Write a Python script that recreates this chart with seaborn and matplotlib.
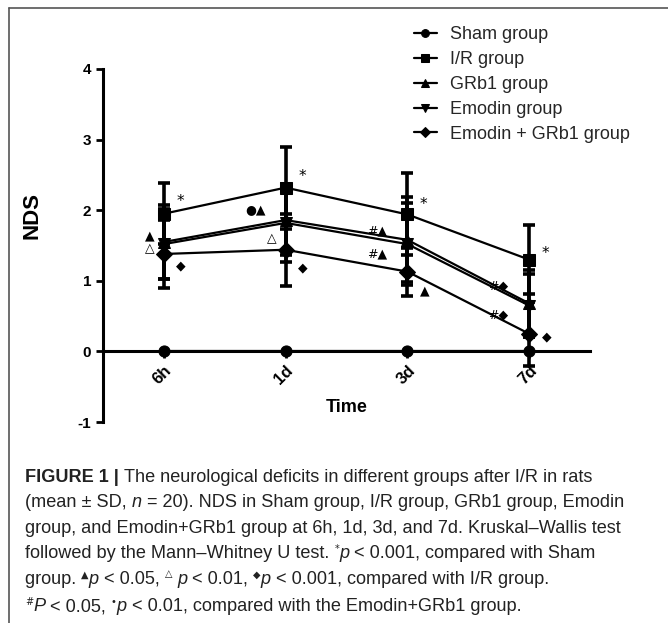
import numpy as np
import pandas as pd
import matplotlib
matplotlib.use('Agg')
import matplotlib.pyplot as plt
import seaborn as sns
from matplotlib.lines import Line2D

sns.set_theme(style='white')
plt.rcParams['font.family'] = ['Liberation Sans', 'DejaVu Sans']

# values (mean and SD of NDS)
times = ['6h', '1d', '3d', '7d']
groups = ['Sham group', 'I/R group', 'GRb1 group', 'Emodin group', 'Emodin + GRb1 group']
sham_mean = [0.0, 0.0, 0.0, 0.0]
sham_sd = [0.0, 0.0, 0.0, 0.0]
ir_mean = [1.95, 2.32, 1.94, 1.30]
ir_sd = [0.43, 0.58, 0.58, 0.49]
grb1_mean = [1.55, 1.86, 1.58, 0.68]
grb1_sd = [0.52, 0.50, 0.60, 0.47]
emodin_mean = [1.52, 1.82, 1.52, 0.65]
emodin_sd = [0.50, 0.55, 0.58, 0.45]
combo_mean = [1.38, 1.44, 1.13, 0.25]
combo_sd = [0.48, 0.51, 0.34, 0.45]

# significance marks: (time index, y, text, side)
marks = [
    (0, 2.12, '*', 'r'), (0, 1.63, '▲', 'l'), (0, 1.45, '△', 'l'), (0, 1.21, '◆', 'r'),
    (1, 2.48, '*', 'r'), (1, 1.99, '●▲', 'l'), (1, 1.59, '△', 'l'), (1, 1.18, '◆', 'r'),
    (2, 2.08, '*', 'r'), (2, 1.70, '#▲', 'l'), (2, 1.38, '#▲', 'l'), (2, 0.85, '▲', 'r'),
    (3, 1.38, '*', 'r'), (3, 0.93, '#◆', 'l'), (3, 0.52, '#◆', 'l'), (3, 0.20, '◆', 'r'),
]

means = [sham_mean, ir_mean, grb1_mean, emodin_mean, combo_mean]
sds = [sham_sd, ir_sd, grb1_sd, emodin_sd, combo_sd]
df = pd.DataFrame({
    'Time': np.tile(np.arange(len(times)), len(groups)),
    'NDS': np.concatenate(means),
    'group': np.repeat(groups, len(times)),
})

fig = plt.figure(figsize=(6.68, 6.23), dpi=100)
ax = fig.add_axes([103 / 668, 1 - 422 / 623, 487 / 668, 353 / 623])

for m, s in zip(means[1:], sds[1:]):
    ax.errorbar(np.arange(len(times)), m, yerr=s, fmt='none', ecolor='black',
                elinewidth=2.6, capsize=4.5, capthick=2.6, zorder=2)

sns.lineplot(data=df, x='Time', y='NDS', hue='group', style='group',
             palette=['black'] * 5, dashes=False,
             markers={'Sham group': 'o', 'I/R group': 's', 'GRb1 group': '^',
                      'Emodin group': 'v', 'Emodin + GRb1 group': 'D'},
             markersize=8, markeredgecolor='black', linewidth=1.6, ax=ax, zorder=3)

# spine position first: moving a spine resets the ticks
ax.spines['top'].set_visible(False)
ax.spines['right'].set_visible(False)
ax.spines['bottom'].set_position(('data', 0))
for sp in ['left', 'bottom']:
    ax.spines[sp].set_linewidth(2.2)
    ax.spines[sp].set_color('black')

ax.set_xlim(-0.5, 3.5)
ax.set_ylim(-1, 4)
ax.tick_params(axis='both', bottom=True, left=True, direction='out', length=5,
               width=2, color='black', labelcolor='black')
ax.tick_params(axis='x', pad=3)
ax.set_xticks(range(len(times)))
ax.set_xticklabels(times, fontsize=12, fontweight='bold', rotation=45, ha='right',
                   rotation_mode='anchor')
ax.set_yticks(range(-1, 5))
ax.set_yticklabels([str(v) for v in range(-1, 5)], fontsize=11, fontweight='bold')
ax.set_xlabel('Time', fontsize=13, fontweight='bold', color='black')
ax.set_ylabel('NDS', fontsize=16, fontweight='bold', color='black')
ax.xaxis.set_label_coords(0.5, 0.065)
ax.yaxis.set_label_coords(-0.125, 0.585)

handles, labels = ax.get_legend_handles_labels()
ax.legend(handles, labels, loc='upper left', bbox_to_anchor=(405 / 668, 1 - 17 / 623),
          bbox_transform=fig.transFigure, frameon=False, fontsize=13, markerscale=0.7,
          handlelength=1.25, handletextpad=0.75, labelspacing=0.44, borderpad=0)

for i, y, txt, side in marks:
    dx = 9 if side == 'r' else -12 * len(txt) + 2
    ax.annotate(txt, xy=(i, y), xytext=(dx, 0), textcoords='offset points',
                ha='left' if side == 'r' else 'center', va='center',
                fontsize=11 if txt == '*' else 9, family='DejaVu Sans', color='black')

# frame around the figure panel
fig.add_artist(Line2D([9 / 668, 1], [1 - 8 / 623, 1 - 8 / 623], transform=fig.transFigure,
                      color='#555555', lw=1.2))
fig.add_artist(Line2D([9 / 668, 9 / 668], [0, 1 - 8 / 623], transform=fig.transFigure,
                      color='#555555', lw=1.2))

# caption
cap = 'Liberation Sans'
fs = 13.1
n = dict(family=cap, fontsize=fs, color='#222222')
b = dict(family=cap, fontsize=fs, color='#222222', fontweight='bold')
it = dict(family=cap, fontsize=fs, color='#222222', style='italic')
sup = dict(family=['DejaVu Sans'], fontsize=7, color='#222222', offset=6)

caption = [
    [('FIGURE 1 | ', b), ('The neurological deficits in different groups after I/R in rats', n)],
    [('(mean ± SD, ', n), ('n', it), (' = 20). NDS in Sham group, I/R group, GRb1 group, Emodin', n)],
    [('group, and Emodin+GRb1 group at 6h, 1d, 3d, and 7d. Kruskal–Wallis test', n)],
    [('followed by the Mann–Whitney U test. ', n), ('*', sup), ('p', it),
     (' < 0.001, compared with Sham', n)],
    [('group. ', n), ('▲', sup), ('p', it), (' < 0.05, ', n), ('△', sup), (' ', n), ('p', it),
     (' < 0.01, ', n), ('◆', sup), ('p', it), (' < 0.001, compared with I/R group.', n)],
    [('#', sup), ('P', it), (' < 0.05, ', n), ('•', sup), ('p', it),
     (' < 0.01, compared with the Emodin+GRb1 group.', n)],
]


def rich_line(x, y, pieces):
    prev = None
    base = 0
    for txt, kw in pieces:
        kw = dict(kw)
        off = kw.pop('offset', 0)
        if prev is None:
            prev = fig.text(x, y + off / 623, txt, va='bottom', **kw)
        else:
            prev = ax.annotate(txt, xy=(1, 0), xycoords=prev, xytext=(0, off - base),
                               textcoords='offset points', va='bottom',
                               annotation_clip=False, **kw)
        base = off


for k, line in enumerate(caption):
    rich_line(25 / 668, 1 - (486 + 25.4 * k) / 623, line)

fig.savefig('out.png', dpi=100, facecolor='white')
